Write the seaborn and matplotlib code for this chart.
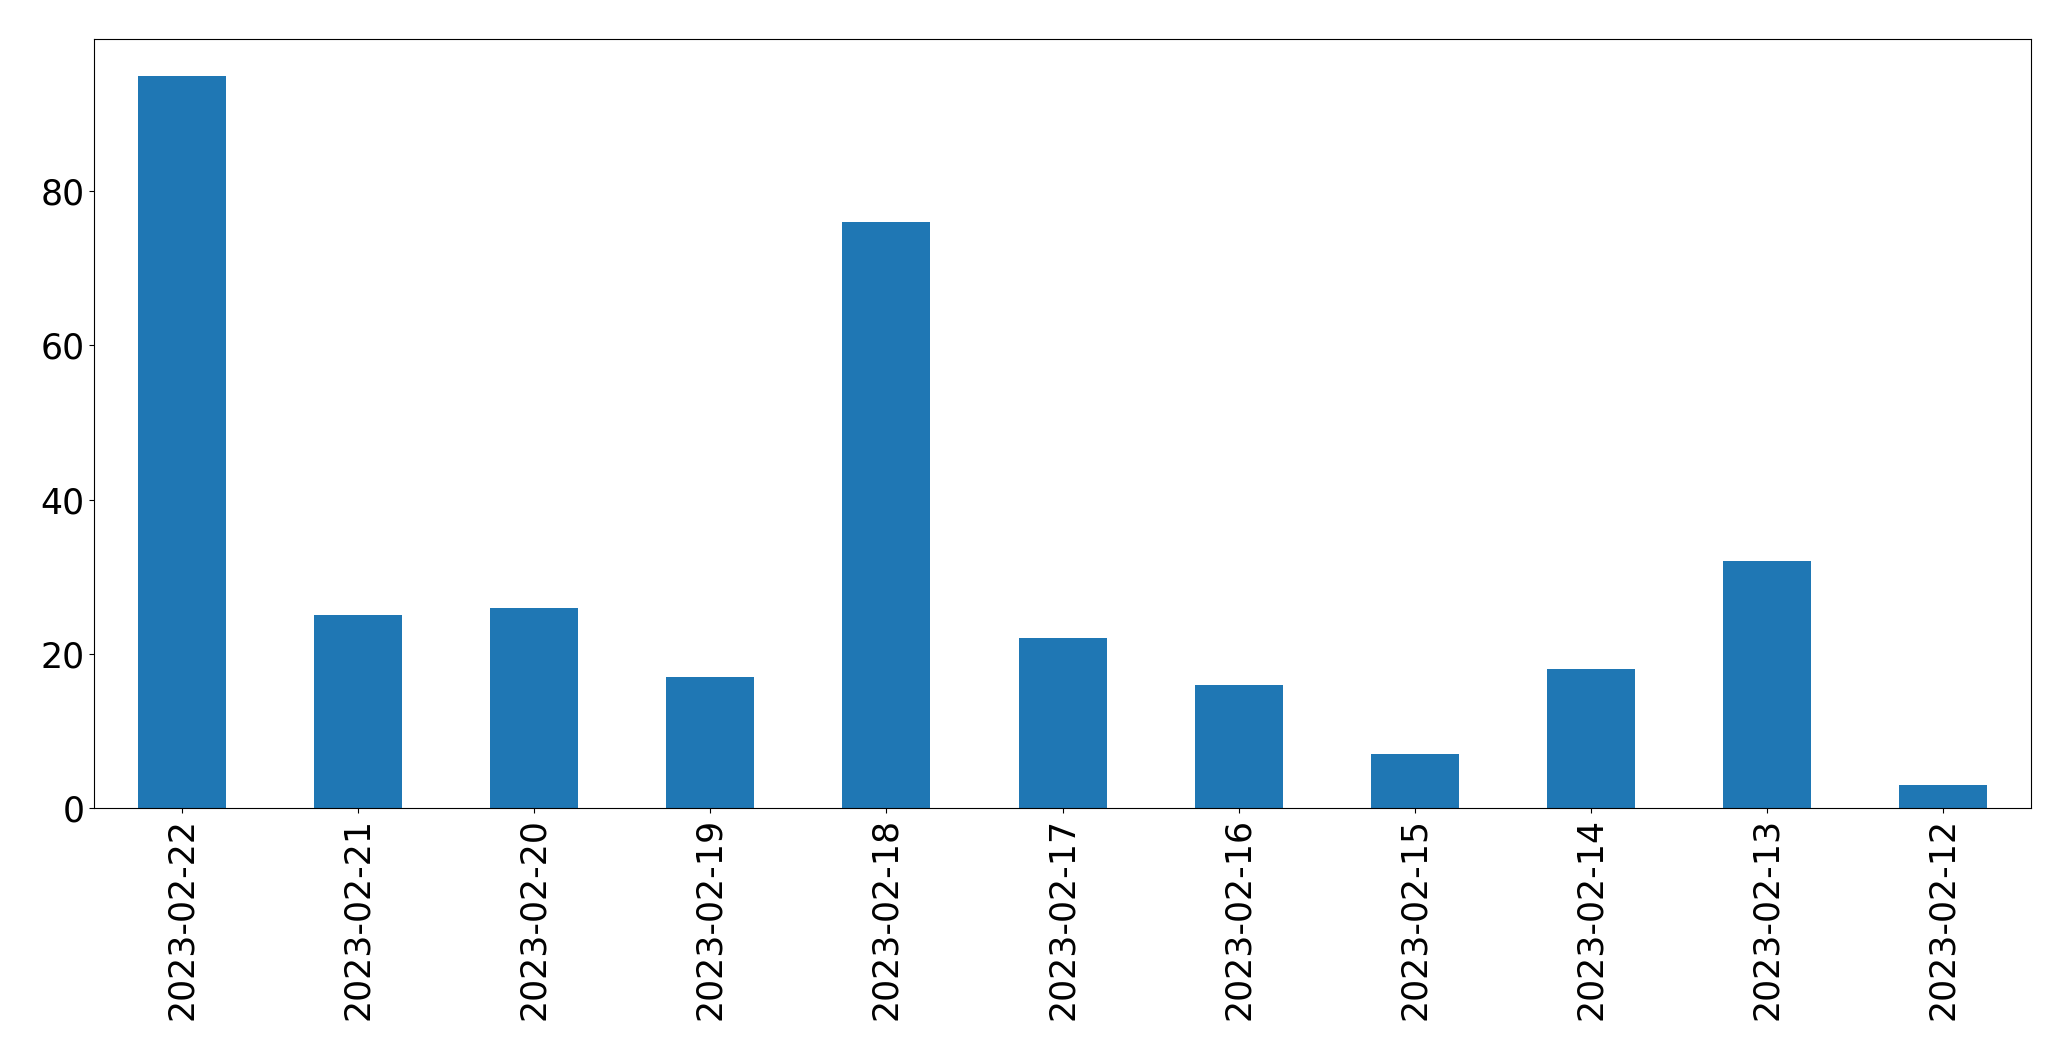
import pandas as pd
import matplotlib
matplotlib.use("Agg")
import matplotlib.pyplot as plt
import seaborn as sns

# Daily counts
dates = ["2023-02-22", "2023-02-21", "2023-02-20", "2023-02-19", "2023-02-18",
         "2023-02-17", "2023-02-16", "2023-02-15", "2023-02-14", "2023-02-13",
         "2023-02-12"]
counts = [95, 25, 26, 17, 76, 22, 16, 7, 18, 32, 3]

df = pd.DataFrame({"date": dates, "count": counts})

fig, ax = plt.subplots(figsize=(20.71, 10.61), dpi=100)
sns.barplot(data=df, x="date", y="count", order=dates, color="#1f77b4",
            saturation=1, width=0.5, linewidth=0, ax=ax)

ax.set_xlabel("")
ax.set_ylabel("")
ax.set_xlim(-0.5, len(dates) - 0.5)
ax.set_ylim(0, max(counts) * 1.05)
ax.tick_params(axis="both", labelsize=25)
ax.tick_params(axis="x", labelrotation=90)

plt.subplots_adjust(left=0.0454, right=0.9807, top=0.9633, bottom=0.2385)
plt.savefig("out.png", dpi=100)
